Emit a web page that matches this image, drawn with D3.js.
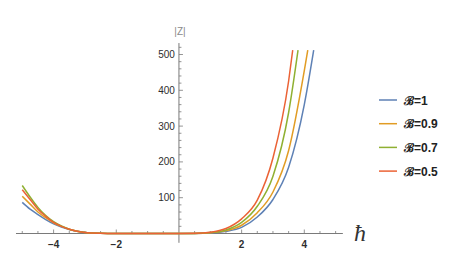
<!DOCTYPE html>
<html>
<head>
<meta charset="utf-8">
<script src="https://cdn.jsdelivr.net/npm/d3@7"></script>
<style>
  body { margin: 0; background: #fff; }
  svg { display: block; font-family: "Liberation Sans", Arial, sans-serif; }
</style>
</head>
<body>
<div id="chart"></div>
<script>
// Values, [hbar, |Z|]
const SERIES_LABELS = ["\u212C=1", "\u212C=0.9", "\u212C=0.7", "\u212C=0.5"];
const SERIES_COLORS = ["#5E81B5", "#E19C24", "#8FB032", "#EB6235"];

const B_1 = [[-5, 87], [-4.75, 68], [-4.5, 53], [-4.25, 39], [-4, 27], [-3.75, 18], [-3.5, 11],
  [-3.25, 6], [-3, 3], [-2.5, 0.8], [-2, 0.2], [-1, 0], [0, 0], [0.5, 0.2], [1, 1.5],
  [1.5, 6], [2, 17], [2.5, 46], [3, 95], [3.5, 185], [4, 360], [4.3, 512]];
const B_09 = [[-5, 104], [-4.75, 82], [-4.5, 60], [-4.25, 44], [-4, 30], [-3.75, 20], [-3.5, 12],
  [-3.25, 6.5], [-3, 3], [-2.5, 0.8], [-2, 0.2], [-1, 0], [0, 0], [0.5, 0.3], [1, 2],
  [1.5, 8], [2, 23], [2.5, 58], [3, 116], [3.5, 232], [4, 455], [4.11, 512]];
const B_07 = [[-5, 134], [-4.75, 102], [-4.5, 73], [-4.25, 50], [-4, 33], [-3.75, 21], [-3.5, 12],
  [-3.25, 6.5], [-3, 3], [-2.5, 0.8], [-2, 0.2], [-1, 0], [0, 0], [0.5, 0.3], [1, 2.5],
  [1.5, 10], [2, 31], [2.5, 76], [3, 160], [3.5, 338], [3.8, 512]];
const B_05 = [[-5, 122], [-4.75, 95], [-4.5, 68], [-4.25, 48], [-4, 31], [-3.75, 20], [-3.5, 12],
  [-3.25, 6.5], [-3, 3], [-2.5, 0.8], [-2, 0.2], [-1, 0], [0, 0], [0.5, 0.4], [1, 3.5],
  [1.5, 14], [2, 41], [2.5, 93], [3, 211], [3.5, 426], [3.63, 512]];
const SERIES = [B_1, B_09, B_07, B_05];

const X_TICKS = [-4, -2, 2, 4];
const Y_TICKS = [100, 200, 300, 400, 500];

const WIDTH = 463;
const HEIGHT = 254;

const X = d3.scaleLinear().domain([-4, 4]).range([53.6, 304.3]);
const Y = d3.scaleLinear().domain([0, 500]).range([233.5, 54.5]);

const SVG = d3.select("#chart").append("svg")
  .attr("width", WIDTH)
  .attr("height", HEIGHT);

// AXES
const AXIS_COLOR = "#7a7a7a";
const TEXT_COLOR = "#2e2e2e";

// x axis line and ticks (ticks point up)
SVG.append("line")
  .attr("x1", X(-5.2)).attr("x2", X(5.23))
  .attr("y1", Y(0)).attr("y2", Y(0))
  .attr("stroke", AXIS_COLOR).attr("stroke-width", 1);

const X_MINOR = d3.range(-5, 5.01, 0.5).filter(v => v !== 0);
SVG.append("g").selectAll("line")
  .data(X_MINOR)
  .enter().append("line")
  .attr("x1", d => X(d)).attr("x2", d => X(d))
  .attr("y1", Y(0))
  .attr("y2", d => Y(0) - (X_TICKS.includes(d) ? 4 : 2.5))
  .attr("stroke", AXIS_COLOR).attr("stroke-width", 0.8);

SVG.append("g").selectAll("text")
  .data(X_TICKS)
  .enter().append("text")
  .attr("x", d => X(d))
  .attr("y", Y(0) + 14)
  .attr("text-anchor", "middle")
  .attr("font-size", 10)
  .attr("font-weight", "bold")
  .attr("fill", TEXT_COLOR)
  .text(d => d3.format("")(d).replace("-", "\u2212"));

// y axis line and ticks (ticks point right)
SVG.append("line")
  .attr("x1", X(0)).attr("x2", X(0))
  .attr("y1", Y(-26)).attr("y2", Y(532))
  .attr("stroke", AXIS_COLOR).attr("stroke-width", 1);

const Y_MINOR = d3.range(20, 521, 20);
SVG.append("g").selectAll("line")
  .data(Y_MINOR)
  .enter().append("line")
  .attr("x1", X(0))
  .attr("x2", d => X(0) + (Y_TICKS.includes(d) ? 4 : 2.5))
  .attr("y1", d => Y(d)).attr("y2", d => Y(d))
  .attr("stroke", AXIS_COLOR).attr("stroke-width", 0.8);

SVG.append("g").selectAll("text")
  .data(Y_TICKS)
  .enter().append("text")
  .attr("x", X(0) - 4)
  .attr("y", d => Y(d) + 3.5)
  .attr("text-anchor", "end")
  .attr("font-size", 10)
  .attr("fill", TEXT_COLOR)
  .text(d => d);

// axis labels
SVG.append("text")
  .attr("x", X(0) + 1)
  .attr("y", 35)
  .attr("text-anchor", "middle")
  .attr("font-size", 10)
  .attr("fill", "#8a8a8a")
  .text("|Z|");

SVG.append("text")
  .attr("x", 354)
  .attr("y", 241)
  .attr("font-family", "'Liberation Serif', 'DejaVu Serif', serif")
  .attr("font-style", "italic")
  .attr("font-size", 24)
  .attr("fill", "#333")
  .text("\u0127");

// CURVES
const LINE = d3.line()
  .x(d => X(d[0]))
  .y(d => Y(d[1]))
  .curve(d3.curveMonotoneX);

SVG.append("g").selectAll("path")
  .data(SERIES)
  .enter().append("path")
  .attr("d", LINE)
  .attr("fill", "none")
  .attr("stroke", (d, i) => SERIES_COLORS[i])
  .attr("stroke-width", 1.5);

// LEGEND
const LEGEND = SVG.append("g").selectAll("g")
  .data(SERIES_LABELS)
  .enter().append("g")
  .attr("transform", (d, i) => "translate(379," + (100 + i * 23.7) + ")");

LEGEND.append("line")
  .attr("x1", 0).attr("x2", 18)
  .attr("stroke", (d, i) => SERIES_COLORS[i])
  .attr("stroke-width", 1.5);

LEGEND.append("text")
  .attr("x", 25)
  .attr("y", 4.5)
  .attr("font-size", 12)
  .attr("font-weight", "bold")
  .attr("fill", "#222")
  .text(d => d);
</script>
</body>
</html>
